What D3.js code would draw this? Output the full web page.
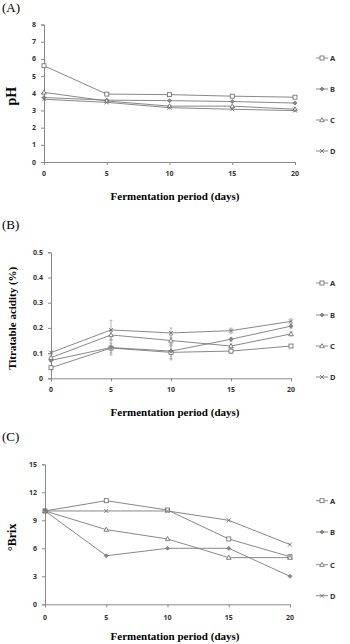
<!DOCTYPE html>
<html>
<head>
<meta charset="utf-8">
<script src="https://cdn.jsdelivr.net/npm/d3@7"></script>
<style>
  body { margin: 0; background: #fff; }
  svg { display: block; }
</style>
</head>
<body>
<div id="chart"></div>
<script>
var days = [0, 5, 10, 15, 20]
var seriesNames = ['A', 'B', 'C', 'D']

// (A) pH
var phA = [5.6, 3.95, 3.92, 3.83, 3.77]
var phB = [3.75, 3.6, 3.57, 3.52, 3.43]
var phC = [4.05, 3.55, 3.25, 3.25, 3.07]
var phD = [3.65, 3.47, 3.16, 3.07, 2.99]
var phTicks = [0, 1, 2, 3, 4, 5, 6, 7, 8]

// (B) titratable acidity
var taA = [0.042, 0.12, 0.103, 0.108, 0.128]
var taB = [0.071, 0.122, 0.108, 0.155, 0.207]
var taC = [0.082, 0.172, 0.15, 0.128, 0.176]
var taD = [0.102, 0.192, 0.18, 0.189, 0.226]
var taErrA = [0.004, 0.02, 0.03, 0.008, 0.006]
var taErrB = [0.004, 0.03, 0.03, 0.008, 0.008]
var taErrC = [0.004, 0.02, 0.02, 0.008, 0.008]
var taErrD = [0.004, 0.038, 0.02, 0.01, 0.01]
var taTicks = [0, 0.1, 0.2, 0.3, 0.4, 0.5]

// (C) Brix
var brixA = [10, 11.1, 10.1, 7, 5.1]
var brixB = [10, 5.2, 6, 6, 3]
var brixC = [10, 8, 7, 5, 5]
var brixD = [10, 10, 10, 9, 6.4]
var brixTicks = [0, 3, 6, 9, 12, 15]

var width = 350
var height = 644
var lineColor = '#7a7a7a'
var axisColor = '#8a8a8a'

var svg = d3.select('#chart').append('svg')
    .attr('width', width)
    .attr('height', height)

var panels = [
    {
        label: '(A)', labelY: 12, title: 'pH', titleSize: 14,
        left: 44, right: 295, top: 24.5, bottom: 162,
        domain: [0, 8], ticks: phTicks, fmt: d => d,
        series: [phA, phB, phC, phD], errors: null,
        legendY: [58, 89, 120, 151], tickLabelY: 176, xTitleY: 200
    },
    {
        label: '(B)', labelY: 229, title: 'Titratable acidity (%)', titleSize: 11,
        left: 51, right: 291, top: 252.3, bottom: 378.3,
        domain: [0, 0.5], ticks: taTicks, fmt: d => d3.format('.1f')(d).replace('0.0', '0'),
        series: [taA, taB, taC, taD], errors: [taErrA, taErrB, taErrC, taErrD],
        legendY: [283, 315, 346, 377], tickLabelY: 392, xTitleY: 416
    },
    {
        label: '(C)', labelY: 441, title: '°Brix', titleSize: 12,
        left: 45, right: 290, top: 464.3, bottom: 604.3,
        domain: [0, 15], ticks: brixTicks, fmt: d => d,
        series: [brixA, brixB, brixC, brixD], errors: null,
        legendY: [500.7, 532, 564.7, 595.7], tickLabelY: 620, xTitleY: 640
    }
]

function drawMarker(g, name, x, y) {
    if (name == 'A') {
        g.append('rect')
            .attr('x', x - 2).attr('y', y - 2)
            .attr('width', 4).attr('height', 4)
            .attr('fill', '#fff').attr('stroke', '#666').attr('stroke-width', 0.8)
    } else if (name == 'B') {
        g.append('path')
            .attr('d', `M${x - 2},${y}L${x},${y - 2}L${x + 2},${y}L${x},${y + 2}Z`)
            .attr('fill', '#888').attr('stroke', '#666').attr('stroke-width', 0.6)
    } else if (name == 'C') {
        g.append('path')
            .attr('d', `M${x},${y - 2.4}L${x + 2.3},${y + 1.7}L${x - 2.3},${y + 1.7}Z`)
            .attr('fill', '#fff').attr('stroke', '#666').attr('stroke-width', 0.8)
    } else {
        g.append('path')
            .attr('d', `M${x - 2},${y - 2}L${x + 2},${y + 2}M${x - 2},${y + 2}L${x + 2},${y - 2}`)
            .attr('stroke', '#666').attr('stroke-width', 0.8)
    }
}

panels.forEach(p => {
    var x = d3.scaleLinear().domain([0, 20]).range([p.left, p.right])
    var y = d3.scaleLinear().domain(p.domain).range([p.bottom, p.top])
    var g = svg.append('g')

    // panel label
    g.append('text')
        .attr('x', 2).attr('y', p.labelY)
        .attr('font-family', 'Liberation Serif, Times New Roman, serif')
        .attr('font-size', '13px')
        .text(p.label)

    // axes
    var xAxis = g.append('g')
        .attr('transform', `translate(0,${p.bottom})`)
        .call(d3.axisBottom(x).tickValues(days).tickSize(3).tickFormat(''))
    var yAxis = g.append('g')
        .attr('transform', `translate(${p.left},0)`)
        .call(d3.axisLeft(y).tickValues(p.ticks).tickSize(3).tickFormat(''))
    ;[xAxis, yAxis].forEach(a => {
        a.select('.domain').attr('stroke', axisColor)
        a.selectAll('.tick line').attr('stroke', axisColor)
    })

    // tick labels
    g.selectAll('.xt').data(days).join('text')
        .attr('x', d => x(d)).attr('y', p.tickLabelY)
        .attr('text-anchor', 'middle')
        .attr('font-family', 'Noto Sans, DejaVu Sans, sans-serif')
        .attr('font-weight', 'bold').attr('font-size', '7px').attr('fill', '#333')
        .text(d => d)
    g.selectAll('.yt').data(p.ticks).join('text')
        .attr('x', p.left - 8).attr('y', d => y(d) + 2.5)
        .attr('text-anchor', 'end')
        .attr('font-family', 'Noto Sans, DejaVu Sans, sans-serif')
        .attr('font-weight', 'bold').attr('font-size', '7px').attr('fill', '#333')
        .text(p.fmt)

    // axis titles
    g.append('text')
        .attr('x', 175).attr('y', p.xTitleY)
        .attr('text-anchor', 'middle')
        .attr('font-family', 'Liberation Serif, Times New Roman, serif')
        .attr('font-weight', 'bold').attr('font-size', '11px')
        .text('Fermentation period (days)')
    g.append('text')
        .attr('transform', `translate(16,${(p.top + p.bottom) / 2 + 3}) rotate(-90)`)
        .attr('text-anchor', 'middle')
        .attr('font-family', 'Liberation Serif, Times New Roman, serif')
        .attr('font-weight', 'bold').attr('font-size', p.titleSize + 'px')
        .text(p.title)

    var line = d3.line().x((d, i) => x(days[i])).y(d => y(d))

    // error bars
    if (p.errors) {
        p.series.forEach((s, si) => {
            s.forEach((v, i) => {
                var e = p.errors[si][i]
                var cx = x(days[i])
                g.append('line')
                    .attr('x1', cx).attr('x2', cx)
                    .attr('y1', y(v - e)).attr('y2', y(v + e))
                    .attr('stroke', '#999').attr('stroke-width', 0.7)
                ;[v - e, v + e].forEach(w => g.append('line')
                    .attr('x1', cx - 1.5).attr('x2', cx + 1.5)
                    .attr('y1', y(w)).attr('y2', y(w))
                    .attr('stroke', '#999').attr('stroke-width', 0.7))
            })
        })
    }

    // lines + markers
    p.series.forEach((s, si) => {
        g.append('path')
            .datum(s)
            .attr('d', line)
            .attr('fill', 'none')
            .attr('stroke', lineColor)
            .attr('stroke-width', 0.9)
    })
    p.series.forEach((s, si) => {
        s.forEach((v, i) => drawMarker(g, seriesNames[si], x(days[i]), y(v)))
    })

    // legend
    seriesNames.forEach((name, i) => {
        var ly = p.legendY[i]
        g.append('line')
            .attr('x1', 316).attr('x2', 328)
            .attr('y1', ly).attr('y2', ly)
            .attr('stroke', lineColor).attr('stroke-width', 0.9)
        drawMarker(g, name, 322, ly)
        g.append('text')
            .attr('x', 330).attr('y', ly + 2.8)
            .attr('font-family', 'Noto Sans, DejaVu Sans, sans-serif')
            .attr('font-weight', 'bold').attr('font-size', '7.5px').attr('fill', '#333')
            .text(name)
    })
})
</script>
</body>
</html>
